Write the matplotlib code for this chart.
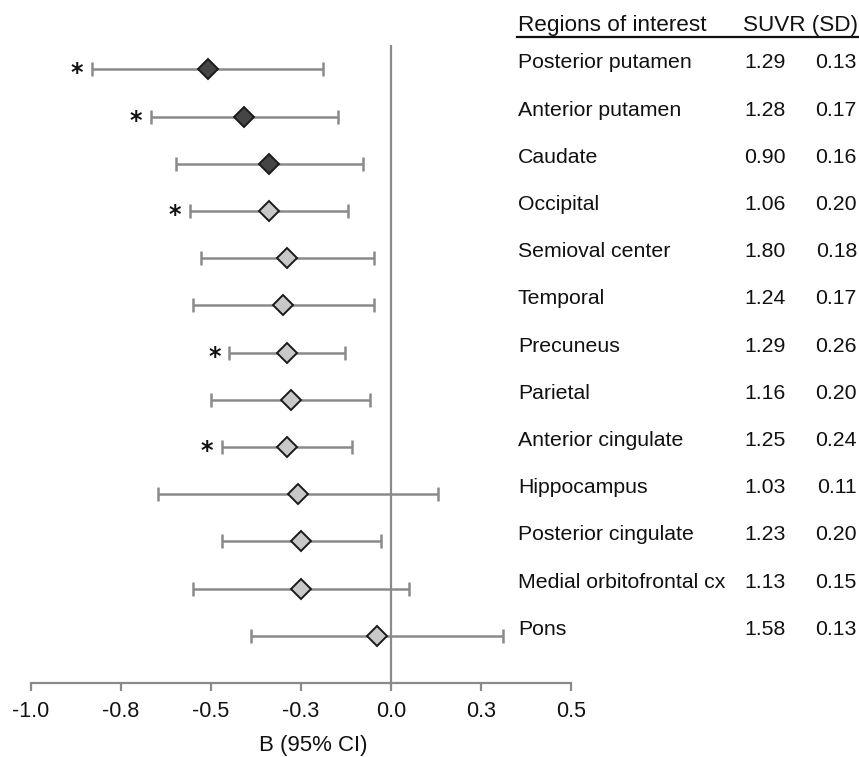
import numpy as np
import matplotlib
matplotlib.use("Agg")
import matplotlib.pyplot as plt
from matplotlib.transforms import blended_transform_factory

plt.rcParams['font.family'] = ['Liberation Sans', 'DejaVu Sans']

# regions, estimates and 95% CI
regions = ["Posterior putamen", "Anterior putamen", "Caudate", "Occipital",
           "Semioval center", "Temporal", "Precuneus", "Parietal",
           "Anterior cingulate", "Hippocampus", "Posterior cingulate",
           "Medial orbitofrontal cx", "Pons"]
est = [-0.508, -0.409, -0.338, -0.338, -0.289, -0.299, -0.289, -0.279,
       -0.289, -0.259, -0.249, -0.249, -0.040]
lower = [-0.830, -0.668, -0.598, -0.558, -0.529, -0.549, -0.449, -0.499,
         -0.469, -0.648, -0.469, -0.549, -0.389]
upper = [-0.188, -0.148, -0.079, -0.119, -0.048, -0.048, -0.128, -0.059,
         -0.108, 0.131, -0.029, 0.051, 0.311]
significant = [True, True, False, True, False, False, True, False,
               True, False, False, False, False]
striatal = [True, True, True, False, False, False, False, False,
            False, False, False, False, False]
suvr = ["1.29", "1.28", "0.90", "1.06", "1.80", "1.24", "1.29", "1.16",
        "1.25", "1.03", "1.23", "1.13", "1.58"]
sd = ["0.13", "0.17", "0.16", "0.20", "0.18", "0.17", "0.26", "0.20",
      "0.24", "0.11", "0.20", "0.15", "0.13"]
xticks = [-1.0, -0.75, -0.5, -0.25, 0.0, 0.25, 0.5]
xticklabels = ["-1.0", "-0.8", "-0.5", "-0.3", "0.0", "0.3", "0.5"]

GRAY = "#8a8a8a"
INK = "#111111"
W, H = 859, 757
fig = plt.figure(figsize=(W / 100, H / 100), dpi=100)
ax = fig.add_axes([31 / W, 1 - 683 / H, 540 / W, (683 - 45) / H])

y = np.arange(len(regions))
est = np.array(est)
lower = np.array(lower)
upper = np.array(upper)

ax.axvline(0, color=GRAY, lw=1.6, zorder=1)
ax.errorbar(est, y, xerr=[est - lower, upper - est], fmt='none',
            ecolor=GRAY, elinewidth=1.8, capsize=5, capthick=1.8, zorder=2)
for i in y:
    fc = "#454545" if striatal[i] else "#c8c8c8"
    ax.plot(est[i], i, marker='D', ms=10, mfc=fc, mec="#1a1a1a", mew=1.4,
            ls='none', zorder=3)
    if significant[i]:
        ax.annotate("*", (lower[i], i), xytext=(-15, -4),
                    textcoords='offset pixels', ha='center', va='center',
                    fontsize=17, fontweight='bold', family='DejaVu Sans',
                    color=INK)

ax.set_xlim(-1.0, 0.5)
ax.set_ylim(len(regions) - 1 + 1.0, -0.515)
ax.set_xticks(xticks)
ax.set_xticklabels(xticklabels, fontsize=15.5)
ax.set_yticks([])
for s in ['top', 'right', 'left']:
    ax.spines[s].set_visible(False)
ax.spines['bottom'].set_color(GRAY)
ax.spines['bottom'].set_linewidth(1.6)
ax.tick_params(axis='x', direction='out', length=6, width=1.6, color=GRAY,
               pad=7, labelcolor=INK)
fig.text(313 / W, 1 - 746 / H, "B (95% CI)", ha='center', va='center',
         fontsize=16, color=INK)

# table on the right
tr = blended_transform_factory(fig.transFigure, ax.transData)
for i in y:
    fig.text(518 / W, i - 0.02, regions[i], transform=tr, ha='left',
             va='baseline', fontsize=15.3, color=INK)
    fig.text(786 / W, i - 0.02, suvr[i], transform=tr, ha='right',
             va='baseline', fontsize=15.3, color=INK)
    fig.text(857 / W, i - 0.02, sd[i], transform=tr, ha='right',
             va='baseline', fontsize=15.3, color=INK)

fig.text(518 / W, 1 - 31.5 / H, "Regions of interest", ha='left',
         va='baseline', fontsize=16.2, color=INK)
fig.text(858 / W, 1 - 31.5 / H, "SUVR (SD)", ha='right', va='baseline',
         fontsize=16.2, color=INK)
fig.add_artist(plt.Line2D([517 / W, 1.0], [1 - 36.5 / H] * 2,
                          color=INK, lw=1.6))

fig.savefig("out.png", dpi=100)
